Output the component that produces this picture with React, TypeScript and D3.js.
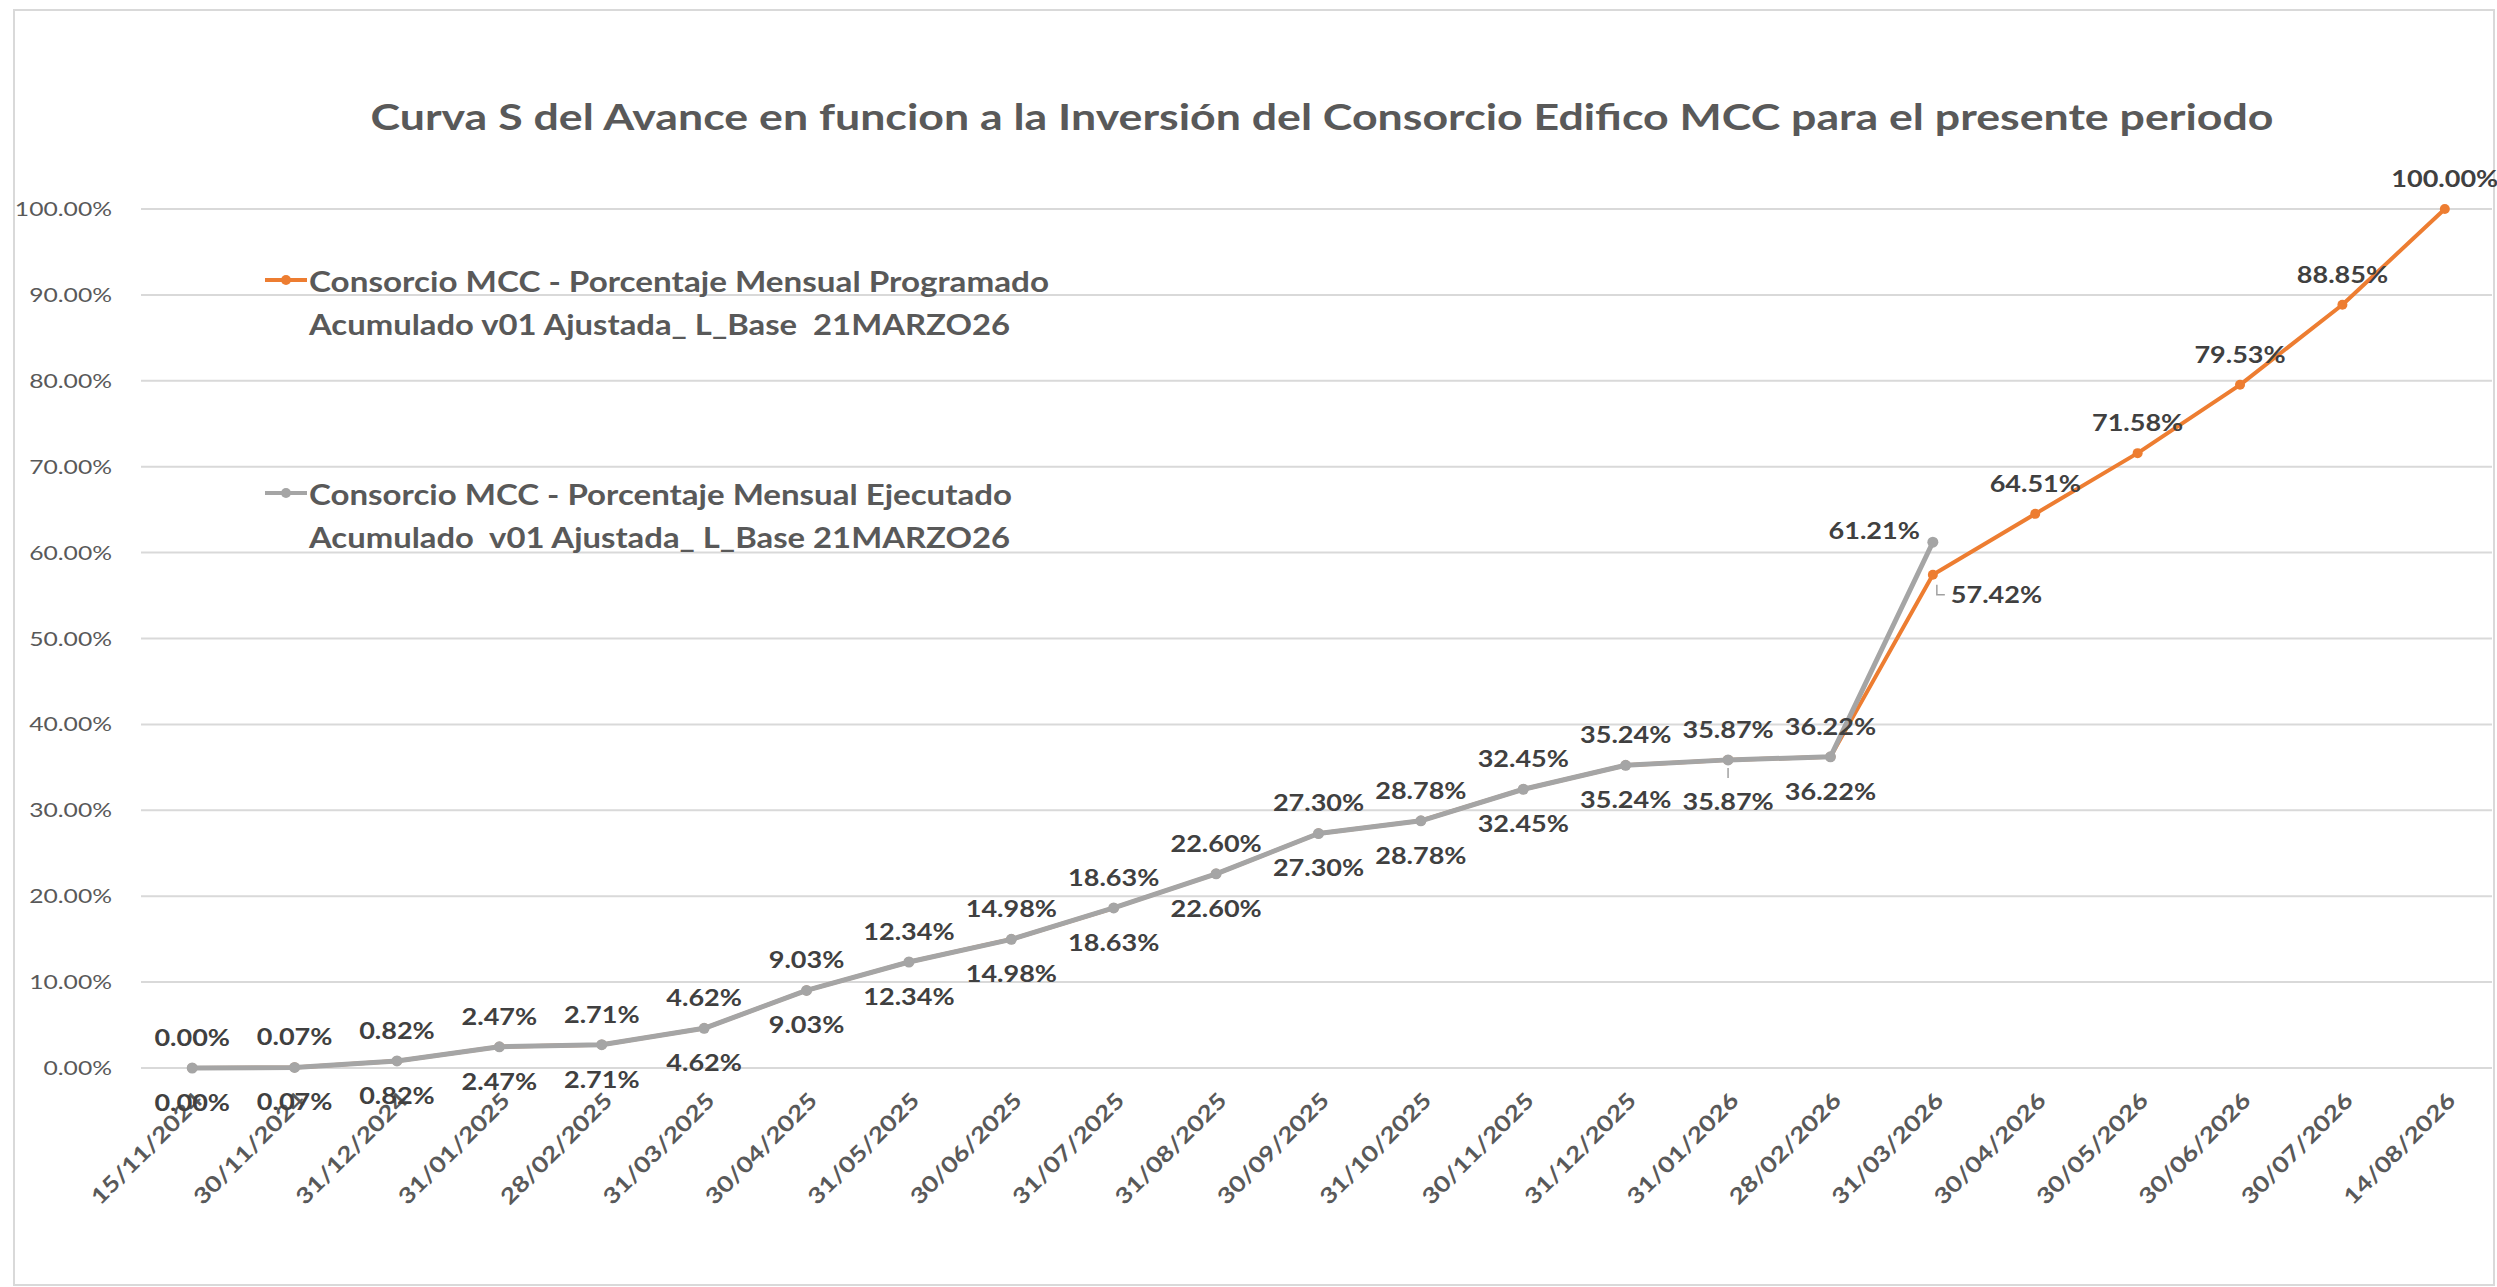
import React from 'react';
import * as d3 from 'd3';

const categories = [
  '15/11/2024', '30/11/2024', '31/12/2024', '31/01/2025', '28/02/2025', '31/03/2025',
  '30/04/2025', '31/05/2025', '30/06/2025', '31/07/2025', '31/08/2025', '30/09/2025',
  '31/10/2025', '30/11/2025', '31/12/2025', '31/01/2026', '28/02/2026', '31/03/2026',
  '30/04/2026', '30/05/2026', '30/06/2026', '30/07/2026', '14/08/2026',
];

// Consorcio MCC - Porcentaje Mensual Programado Acumulado (%)
const programado = [
  0.0, 0.07, 0.82, 2.47, 2.71, 4.62, 9.03, 12.34, 14.98, 18.63, 22.6, 27.3,
  28.78, 32.45, 35.24, 35.87, 36.22, 57.42, 64.51, 71.58, 79.53, 88.85, 100.0,
];

// Consorcio MCC - Porcentaje Mensual Ejecutado Acumulado (%)
const ejecutado = [
  0.0, 0.07, 0.82, 2.47, 2.71, 4.62, 9.03, 12.34, 14.98, 18.63, 22.6, 27.3,
  28.78, 32.45, 35.24, 35.87, 36.22, 61.21,
];

const yTicks = [0, 10, 20, 30, 40, 50, 60, 70, 80, 90, 100];

const title = 'Curva S del Avance en funcion a la Inversión del Consorcio Edifico MCC para el presente periodo';
const legendProg = ['Consorcio MCC - Porcentaje Mensual Programado', 'Acumulado v01 Ajustada_ L_Base  21MARZO26'];
const legendEjec = ['Consorcio MCC - Porcentaje Mensual Ejecutado', 'Acumulado  v01 Ajustada_ L_Base 21MARZO26'];

const W = 2497;
const H = 1287;
const ORANGE = '#ED7D31';
const GRAY = '#A5A5A5';
const FONT = 'Lato, "Open Sans", sans-serif';

const fmt = (v: number) => v.toFixed(2) + '%';

function SText({ x, y, sx = 1.15, rotate = 0, anchor = 'middle', size = 23.5, weight = 700, fill = '#404040', children }: any) {
  return (
    <text
      transform={`translate(${x},${y}) rotate(${rotate}) scale(${sx},1)`}
      textAnchor={anchor}
      fontSize={size}
      fontWeight={weight}
      fill={fill}
      fontFamily={FONT}
      style={{ whiteSpace: 'pre' }}
    >
      {children}
    </text>
  );
}

export default function App() {
  const x = d3.scalePoint<string>().domain(categories).range([141, 2496]).padding(0.5);
  const y = d3.scaleLinear().domain([0, 100]).range([1068, 209]);
  const line = d3.line<number>().x((_, i) => x(categories[i])!).y((d) => y(d));

  const plotLeft = 141;
  const plotRight = 2492;

  return (
    <svg width={W} height={H} style={{ position: 'absolute', left: 0, top: 0, background: '#fff' }}>
      <rect x={14} y={10} width={2480} height={1275} fill="#fff" stroke="#d9d9d9" strokeWidth={2} />

      <text
        x={1322}
        y={130}
        textAnchor="middle"
        fontSize={37}
        fontWeight={700}
        fill="#595959"
        fontFamily={FONT}
        textLength={1903}
        lengthAdjust="spacingAndGlyphs"
      >
        {title}
      </text>

      {yTicks.map((t) => (
        <g key={t}>
          <line x1={plotLeft} x2={plotRight} y1={y(t)} y2={y(t)} stroke="#d9d9d9" strokeWidth={2} />
          <SText x={112} y={y(t) + 7} anchor="end" size={19} weight={400} sx={1.3} fill="#595959">
            {t.toFixed(2) + '%'}
          </SText>
        </g>
      ))}

      {categories.map((c) => (
        <SText key={c} x={x(c)! + 12} y={1102} rotate={-45} anchor="end" size={22} weight={700} sx={1.2} fill="#595959">
          {c}
        </SText>
      ))}

      <path d={line(programado) ?? ''} fill="none" stroke={ORANGE} strokeWidth={4} strokeLinejoin="round" />
      {programado.map((v, i) => (
        <circle key={'po' + i} cx={x(categories[i])!} cy={y(v)} r={5} fill={ORANGE} />
      ))}

      <path d={line(ejecutado) ?? ''} fill="none" stroke={GRAY} strokeWidth={5} strokeLinejoin="round" />
      {ejecutado.map((v, i) => (
        <circle key={'eo' + i} cx={x(categories[i])!} cy={y(v)} r={5.5} fill={GRAY} />
      ))}

      {programado.map((v, i) => {
        const px = x(categories[i])!;
        const py = y(v);
        if (i === 17) {
          return (
            <g key={'pl' + i}>
              <path d={`M${px + 4},${py + 10}V${py + 20}H${px + 12}`} fill="none" stroke="#a0a0a0" strokeWidth={1.5} />
              <SText x={px + 18} y={py + 28} anchor="start">{fmt(v)}</SText>
            </g>
          );
        }
        return (
          <SText key={'pl' + i} x={px} y={py - 22}>{fmt(v)}</SText>
        );
      })}

      {ejecutado.map((v, i) => {
        const px = x(categories[i])!;
        const py = y(v);
        if (i === 17) {
          return <SText key={'el' + i} x={px - 13} y={py - 3} anchor="end">{fmt(v)}</SText>;
        }
        if (i === 15) {
          return (
            <g key={'el' + i}>
              <line x1={px} x2={px} y1={py + 8} y2={py + 18} stroke="#a0a0a0" strokeWidth={1.5} />
              <SText x={px} y={py + 50}>{fmt(v)}</SText>
            </g>
          );
        }
        return <SText key={'el' + i} x={px} y={py + 43}>{fmt(v)}</SText>;
      })}

      <g>
        <line x1={265} x2={307} y1={280} y2={280} stroke={ORANGE} strokeWidth={4} />
        <circle cx={286} cy={280} r={5} fill={ORANGE} />
        <text x={309} y={292} fontSize={28} fontWeight={700} fill="#595959" fontFamily={FONT} textLength={740} lengthAdjust="spacingAndGlyphs">{legendProg[0]}</text>
        <text x={309} y={335} fontSize={28} fontWeight={700} fill="#595959" fontFamily={FONT} textLength={701} lengthAdjust="spacingAndGlyphs" style={{ whiteSpace: 'pre' }}>{legendProg[1]}</text>

        <line x1={265} x2={307} y1={493} y2={493} stroke={GRAY} strokeWidth={4} />
        <circle cx={286} cy={493} r={5} fill={GRAY} />
        <text x={309} y={505} fontSize={28} fontWeight={700} fill="#595959" fontFamily={FONT} textLength={703} lengthAdjust="spacingAndGlyphs">{legendEjec[0]}</text>
        <text x={309} y={548} fontSize={28} fontWeight={700} fill="#595959" fontFamily={FONT} textLength={701} lengthAdjust="spacingAndGlyphs" style={{ whiteSpace: 'pre' }}>{legendEjec[1]}</text>
      </g>
    </svg>
  );
}
